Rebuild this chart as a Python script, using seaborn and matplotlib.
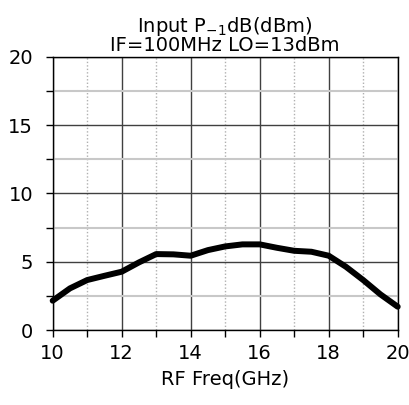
import numpy as np
import pandas as pd
import seaborn as sns
import matplotlib
matplotlib.use('Agg')
from matplotlib import pyplot as plt
from matplotlib.ticker import MultipleLocator

# values
freq = [10.0, 10.5, 11.0, 11.5, 12.0, 12.5, 13.0, 13.5, 14.0, 14.5, 15.0,
        15.5, 16.0, 16.5, 17.0, 17.5, 18.0, 18.5, 19.0, 19.5, 20.0]
p1db = [2.15, 3.05, 3.66, 3.97, 4.27, 4.95, 5.56, 5.54, 5.44, 5.85, 6.12,
        6.27, 6.27, 6.02, 5.8, 5.73, 5.44, 4.63, 3.66, 2.61, 1.71]

df = pd.DataFrame({'freq': freq, 'p1db': p1db})

sns.set_theme(style='ticks', rc={'text.color': 'black', 'axes.labelcolor': 'black',
                                 'xtick.color': 'black', 'ytick.color': 'black'})
plt.rcParams['font.family'] = ['DejaVu Sans']

fig, ax = plt.subplots(figsize=(4.1, 4.05), dpi=100)
fig.subplots_adjust(left=0.1285, right=0.970, top=0.860, bottom=0.185)

sns.lineplot(data=df, x='freq', y='p1db', color='black', lw=4.3, ax=ax,
             zorder=5, clip_on=False)

ax.set_xlim(10, 20)
ax.set_ylim(0, 20)
ax.xaxis.set_major_locator(MultipleLocator(2))
ax.xaxis.set_minor_locator(MultipleLocator(1))
ax.yaxis.set_major_locator(MultipleLocator(5))
ax.yaxis.set_minor_locator(MultipleLocator(2.5))

ax.grid(which='major', axis='both', color='#404040', lw=1.0)
ax.grid(which='minor', axis='y', color='#c8c8c8', lw=1.5)
ax.grid(which='minor', axis='x', color='#b0b0b0', lw=1.0, ls=(0, (1, 1.5)))
ax.set_axisbelow(True)

for s in ax.spines.values():
    s.set_color('black')
    s.set_linewidth(1.0)

ax.tick_params(which='major', direction='out', length=5, width=1, color='black',
               labelsize=14, labelcolor='black')
ax.tick_params(axis='y', which='major', pad=9)
ax.tick_params(axis='x', which='major', pad=5)
ax.tick_params(which='minor', direction='out', length=5, width=1, color='black')

ax.set_xlabel('RF Freq(GHz)', fontsize=14, labelpad=5, color='black')
ax.set_ylabel('')
ax.set_title('Input P$_{\\mathregular{-1}}$dB(dBm)\nIF=100MHz LO=13dBm',
             fontsize=14, pad=4, linespacing=0.9, color='black')

fig.savefig('out.png', dpi=100)
